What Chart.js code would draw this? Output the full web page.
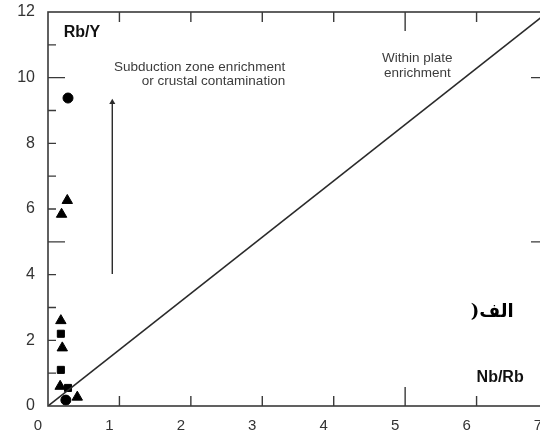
<!DOCTYPE html>
<html>
<head>
<meta charset="utf-8">
<script src="https://cdn.jsdelivr.net/npm/chart.js@4.4.0/dist/chart.umd.min.js"></script>
<style>
  html, body { margin: 0; padding: 0; background: #fff; overflow: hidden; }
  #wrap { width: 560px; height: 441px; }
</style>
</head>
<body>
<div id="wrap"><canvas id="grafico" width="560" height="441"></canvas></div>
<script>
const circulosX = [0.28, 0.25];
const circulosY = [9.38, 0.18];
const triangulosX = [0.27, 0.19, 0.18, 0.20, 0.17, 0.41];
const triangulosY = [6.26, 5.84, 2.60, 1.77, 0.60, 0.27];
const cuadradosX = [0.18, 0.18, 0.28];
const cuadradosY = [2.20, 1.10, 0.55];

// linea divisoria y flecha
const lineaX = [0, 7];
const lineaY = [0, 12];
const flechaX = [0.9, 0.9];
const flechaY = [4.02, 9.25];

const ticksX = [0, 1, 2, 3, 4, 5, 6, 7];
const ticksY = [0, 2, 4, 6, 8, 10, 12];

function juntar(xs, ys) {
  return xs.map((x, i) => ({ x: x, y: ys[i] }));
}

const fuente = '"Liberation Sans", Arial, sans-serif';

// marco con ticks hacia adentro y textos del diagrama
const marcoPlugin = {
  id: 'marco',
  afterDraw(chart) {
    const ctx = chart.ctx;
    const a = chart.chartArea;
    const sx = chart.scales.x;
    const sy = chart.scales.y;
    ctx.save();
    ctx.strokeStyle = '#3a3a3a';
    ctx.lineWidth = 1.6;
    ctx.strokeRect(a.left, a.top, a.right - a.left, a.bottom - a.top);

    ctx.lineWidth = 1.4;
    for (let v = 1; v < 7; v++) {
      const px = sx.getPixelForValue(v);
      const largo = v === 5 ? 19 : 10;
      ctx.beginPath();
      ctx.moveTo(px, a.bottom); ctx.lineTo(px, a.bottom - largo);
      ctx.moveTo(px, a.top); ctx.lineTo(px, a.top + largo);
      ctx.stroke();
    }
    for (let v = 1; v < 12; v++) {
      const py = sy.getPixelForValue(v);
      const largo = (v === 5 || v === 10) ? 17 : 8;
      ctx.beginPath();
      ctx.moveTo(a.left, py); ctx.lineTo(a.left + largo, py);
      ctx.moveTo(a.right, py); ctx.lineTo(a.right - largo, py);
      ctx.stroke();
    }

    // etiquetas de ejes
    ctx.fillStyle = '#111';
    ctx.font = 'bold 16px ' + fuente;
    ctx.textBaseline = 'middle';
    ctx.textAlign = 'left';
    ctx.fillText('Rb/Y', sx.getPixelForValue(0.22), sy.getPixelForValue(11.37));
    ctx.fillText('Nb/Rb', sx.getPixelForValue(6.0), sy.getPixelForValue(0.86));

    // anotaciones
    ctx.fillStyle = '#3c3c3c';
    ctx.font = '13.5px ' + fuente;
    ctx.textAlign = 'right';
    ctx.fillText('Subduction zone enrichment', sx.getPixelForValue(3.32), sy.getPixelForValue(10.33));
    ctx.fillText('or crustal contamination', sx.getPixelForValue(3.32), sy.getPixelForValue(9.9));
    ctx.textAlign = 'center';
    ctx.fillText('Within plate', sx.getPixelForValue(5.17), sy.getPixelForValue(10.6));
    ctx.fillText('enrichment', sx.getPixelForValue(5.17), sy.getPixelForValue(10.12));

    // etiqueta en persa
    ctx.fillStyle = '#000';
    ctx.font = 'bold 18px "DejaVu Serif", "DejaVu Sans", serif';
    ctx.textAlign = 'center';
    ctx.direction = 'ltr';
    ctx.fillText(')الف', sx.getPixelForValue(6.22), sy.getPixelForValue(2.85));
    ctx.restore();
  }
};

function sinRelleno(s) {
  s.paddingTop = 0;
  s.paddingBottom = 0;
  s.paddingLeft = 0;
  s.paddingRight = 0;
}

const chart = new Chart(document.getElementById('grafico'), {
  type: 'scatter',
  data: {
    datasets: [
      {
        label: 'linea',
        type: 'line',
        data: juntar(lineaX, lineaY),
        borderColor: '#2a2a2a',
        borderWidth: 1.6,
        pointRadius: 0,
        fill: false
      },
      {
        label: 'flecha',
        type: 'line',
        data: juntar(flechaX, flechaY),
        borderColor: '#2a2a2a',
        borderWidth: 1.4,
        pointRadius: [0, 3.5],
        pointStyle: 'triangle',
        pointBackgroundColor: '#2a2a2a',
        pointBorderWidth: 0,
        fill: false
      },
      {
        label: 'circulos',
        data: juntar(circulosX, circulosY),
        pointStyle: 'circle',
        pointRadius: 5,
        backgroundColor: '#000',
        borderColor: '#000'
      },
      {
        label: 'triangulos',
        data: juntar(triangulosX, triangulosY),
        pointStyle: 'triangle',
        pointRadius: 6,
        backgroundColor: '#000',
        borderColor: '#000'
      },
      {
        label: 'cuadrados',
        data: juntar(cuadradosX, cuadradosY),
        pointStyle: 'rect',
        pointRadius: 5,
        backgroundColor: '#000',
        borderColor: '#000'
      }
    ]
  },
  options: {
    responsive: false,
    animation: false,
    devicePixelRatio: 1,
    layout: { padding: { top: 12, right: 12, left: 0, bottom: 0 } },
    plugins: {
      legend: { display: false },
      tooltip: { enabled: false }
    },
    scales: {
      x: {
        type: 'linear',
        min: 0,
        max: 7,
        afterBuildTicks: (s) => { s.ticks = ticksX.map(v => ({ value: v })); },
        afterFit: (s) => { s.height = 35; sinRelleno(s); },
        grid: { display: false, drawTicks: false },
        border: { display: false },
        ticks: {
          color: '#333',
          font: { family: fuente, size: 15 },
          padding: 11,
          labelOffset: -10,
          maxRotation: 0
        }
      },
      y: {
        type: 'linear',
        min: 0,
        max: 12,
        afterBuildTicks: (s) => { s.ticks = ticksY.map(v => ({ value: v })); },
        afterFit: (s) => { s.width = 48; sinRelleno(s); },
        grid: { display: false, drawTicks: false },
        border: { display: false },
        ticks: {
          color: '#333',
          font: { family: fuente, size: 16 },
          padding: 13
        }
      }
    }
  },
  plugins: [marcoPlugin]
});
</script>
</body>
</html>
